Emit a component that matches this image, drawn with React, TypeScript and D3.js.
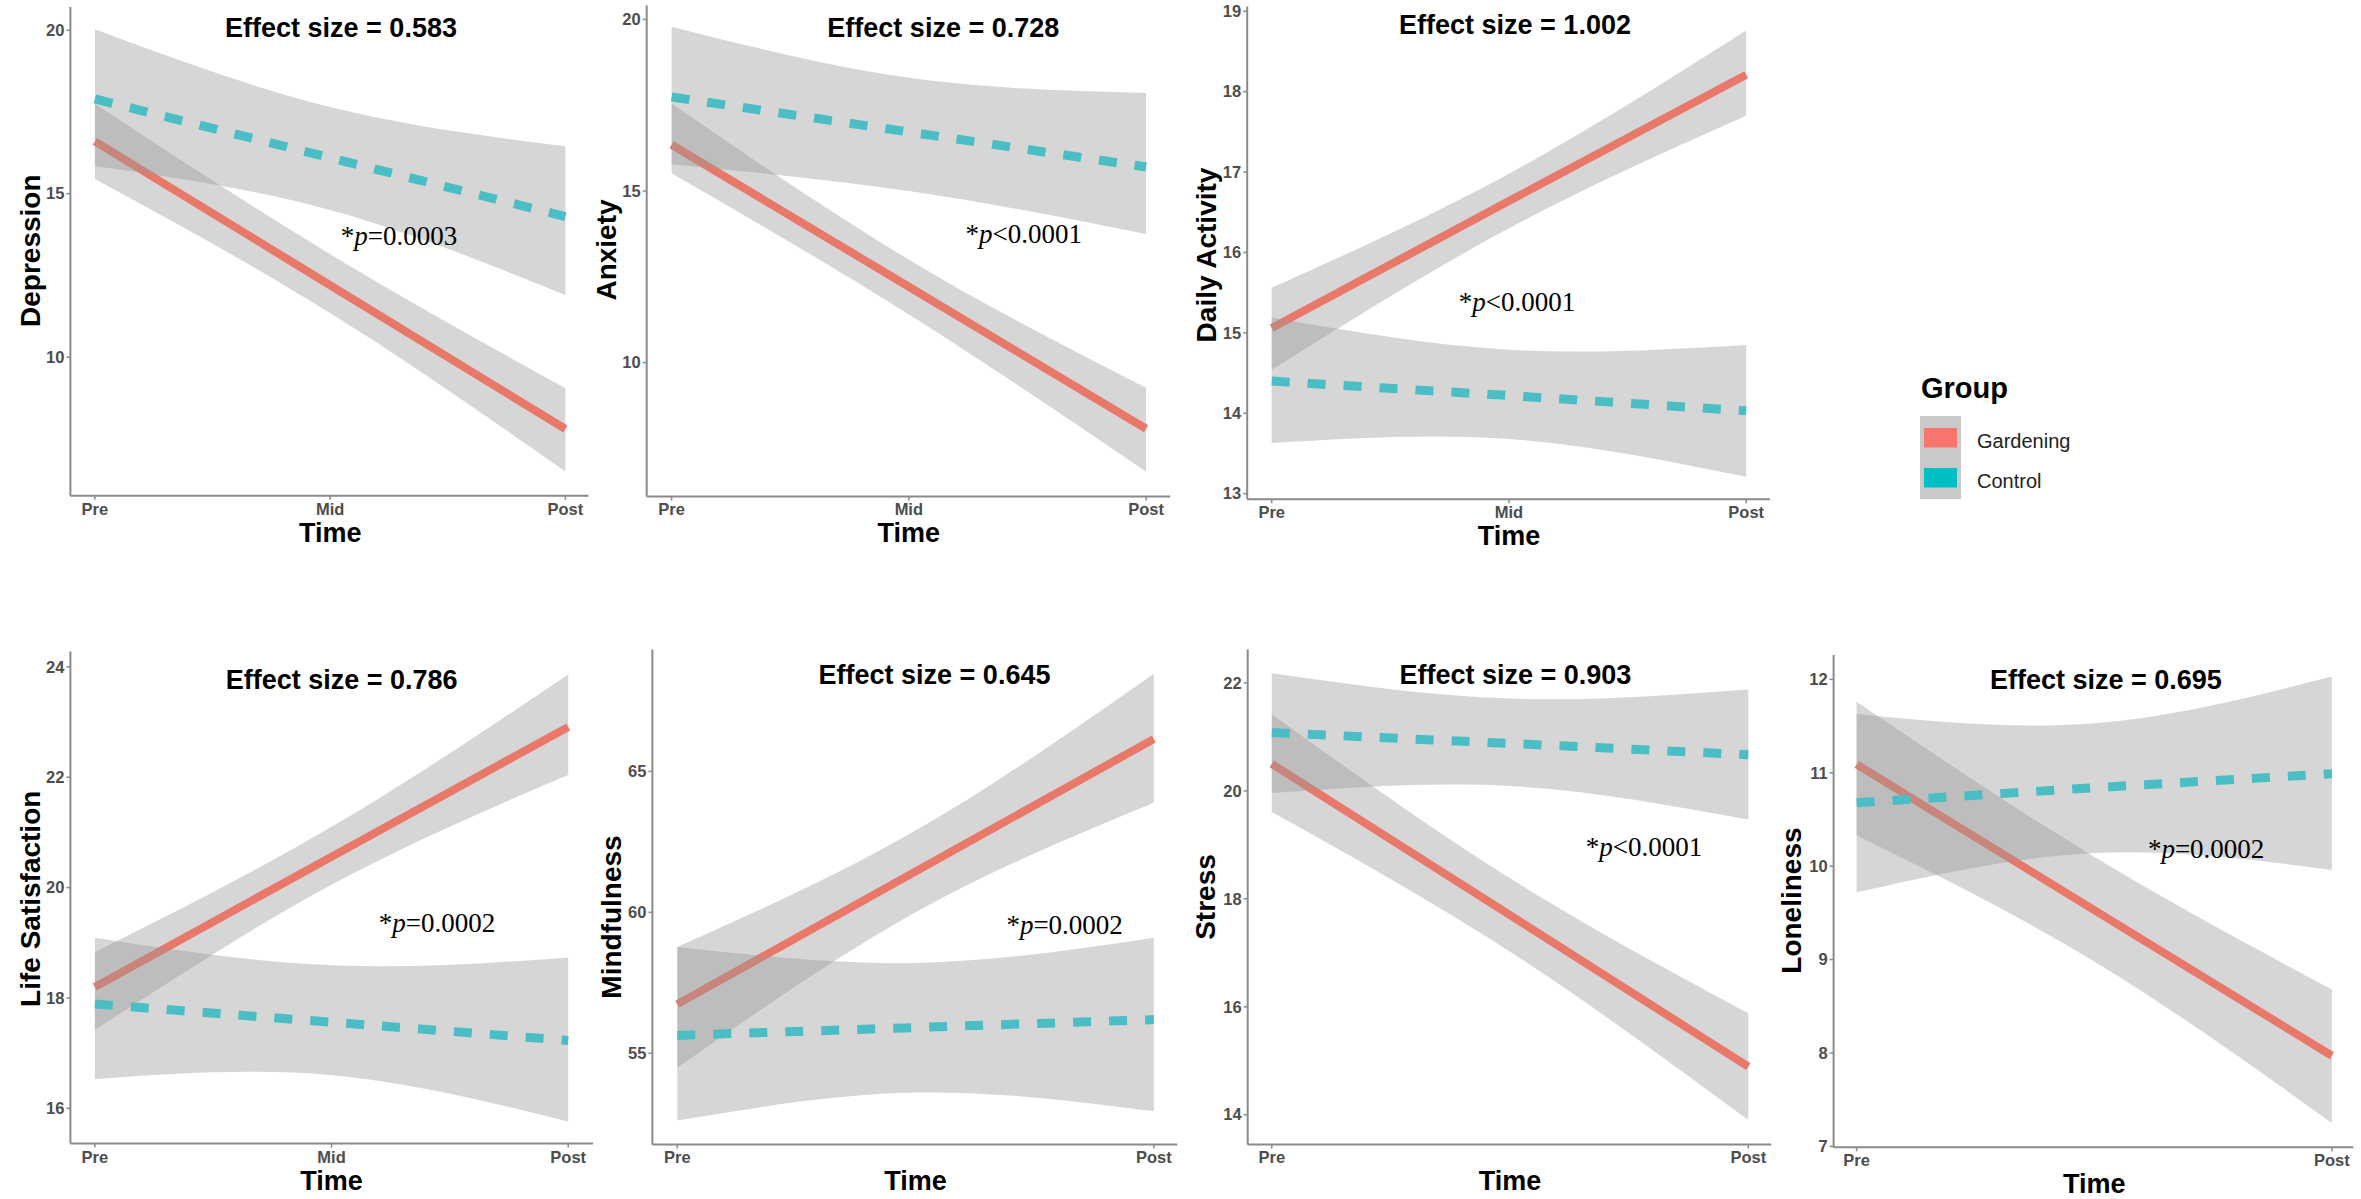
import * as d3 from "d3";

// time points and panel outcomes
const timePoints = ["Pre", "Mid", "Post"];
const outcomes = ["Depression", "Anxiety", "Daily Activity", "Life Satisfaction", "Mindfulness", "Stress", "Loneliness"];
const effectSizes = ["0.583", "0.728", "1.002", "0.786", "0.645", "0.903", "0.695"];
const pValues = ["=0.0003", "<0.0001", "<0.0001", "=0.0002", "=0.0002", "<0.0001", "=0.0002"];
const xTickLabels = [timePoints, timePoints, timePoints, timePoints, ["Pre", "Post"], ["Pre", "Post"], ["Pre", "Post"]];
const yTicks = [
  [10, 15, 20],
  [10, 15, 20],
  [13, 14, 15, 16, 17, 18, 19],
  [16, 18, 20, 22, 24],
  [55, 60, 65],
  [14, 16, 18, 20, 22],
  [7, 8, 9, 10, 11, 12],
];

// fitted values at Pre / Mid / Post
const gardeningMean = [
  [16.6, 12.2, 7.8],
  [16.35, 12.21, 8.07],
  [15.06, 16.64, 18.21],
  [18.2, 20.56, 22.91],
  [56.74, 61.45, 66.15],
  [20.5, 17.7, 14.89],
  [11.09, 9.53, 7.97],
];
const gardeningLower = [
  [15.45, 11.35, 6.5],
  [15.52, 11.4, 6.82],
  [14.54, 16.3, 17.7],
  [17.42, 20.05, 22.04],
  [54.48, 60.0, 63.89],
  [19.61, 17.02, 13.9],
  [10.33, 8.98, 7.25],
];
const gardeningUpper = [
  [17.75, 13.15, 9.05],
  [17.55, 13.0, 9.27],
  [15.56, 16.98, 18.76],
  [18.83, 21.1, 23.86],
  [58.77, 62.9, 68.47],
  [21.42, 18.38, 15.88],
  [11.76, 10.1, 8.68],
];
const controlMean = [
  [17.9, 16.1, 14.3],
  [17.74, 16.72, 15.7],
  [14.4, 14.22, 14.03],
  [17.89, 17.56, 17.23],
  [55.63, 55.91, 56.19],
  [21.08, 20.88, 20.67],
  [10.68, 10.84, 10.99],
];
const controlLower = [
  [15.85, 14.5, 11.9],
  [15.78, 15.0, 13.75],
  [13.63, 13.68, 13.21],
  [16.53, 16.6, 15.76],
  [52.61, 53.6, 52.94],
  [19.96, 20.09, 19.47],
  [9.72, 10.14, 9.96],
];
const controlUpper = [
  [20.03, 17.65, 16.45],
  [19.79, 18.3, 17.86],
  [15.19, 14.79, 14.85],
  [19.09, 18.59, 18.73],
  [58.77, 58.2, 59.1],
  [22.18, 21.71, 21.88],
  [11.63, 11.53, 12.03],
];

const groups = ["Gardening", "Control"];
const groupColors = ["#E8786A", "#4BBEC5"];
const keyColors = ["#F8766D", "#00BFC4"];

// panel placement on the page
const layout = [
  {left: 70.4, right: 588.4, top: 7.1, bottom: 495.7, xPre: 94.9, xPost: 565.4, yDomain: [5.76, 20.71], titleX: 341, titleY: 36.8, ylabX: 29.7, ylabY: 250.7, pX: 340.8, pY: 244.6},
  {left: 646.7, right: 1170.2, top: 5.4, bottom: 496.4, xPre: 671.6, xPost: 1146.1, yDomain: [6.1, 20.41], titleX: 943.3, titleY: 36.8, ylabX: 606, ylabY: 250, pX: 965.5, pY: 242.9},
  {left: 1247.2, right: 1770, top: 6.4, bottom: 499.3, xPre: 1271.7, xPost: 1746.2, yDomain: [12.93, 19.06], titleX: 1515, titleY: 33.9, ylabX: 1205.7, ylabY: 255, pX: 1458.8, pY: 310.7},
  {left: 70.4, right: 593, top: 651.4, bottom: 1143.6, xPre: 94.9, xPost: 568.2, yDomain: [15.36, 24.28], titleX: 341.6, titleY: 689.4, ylabX: 29.7, ylabY: 898.8, pX: 378.8, pY: 932},
  {left: 652.4, right: 1177.1, top: 649.5, bottom: 1144.4, xPre: 677.3, xPost: 1153.8, yDomain: [51.76, 69.33], titleX: 934.5, titleY: 683.5, ylabX: 611, ylabY: 917, pX: 1006.4, pY: 933.9},
  {left: 1247.7, right: 1771.3, top: 649.5, bottom: 1144.4, xPre: 1271.8, xPost: 1748.3, yDomain: [13.45, 22.62], titleX: 1515.4, titleY: 683.5, ylabX: 1204.9, ylabY: 897, pX: 1585.7, pY: 856.3},
  {left: 1833.6, right: 2353.3, top: 655.1, bottom: 1147.3, xPre: 1856.6, xPost: 2331.9, yDomain: [6.99, 12.26], titleX: 2105.9, titleY: 689.4, ylabX: 1791.4, ylabY: 900.6, pX: 2147.9, pY: 858.2},
];

const SANS = "'Liberation Sans', Arial, sans-serif";
const SERIF = "'Liberation Serif', 'Times New Roman', serif";
const AXIS = "#8a8a8a";

function Panel({i}: {i: number}) {
  const L = layout[i];
  const x = d3.scalePoint<string>().domain(timePoints).range([L.xPre, L.xPost]);
  const y = d3.scaleLinear().domain(L.yDomain).range([L.bottom, L.top]);

  const series = [
    {mean: gardeningMean[i], lo: gardeningLower[i], hi: gardeningUpper[i]},
    {mean: controlMean[i], lo: controlLower[i], hi: controlUpper[i]},
  ];

  const band = d3.area<number>()
    .x((_, j) => x(timePoints[j])!)
    .curve(d3.curveNatural);
  const line = d3.line<number>()
    .x((_, j) => x(timePoints[j])!)
    .y(d => y(d));

  return (
    <g>
      {series.map((s, g) => (
        <g key={g}>
          <path
            d={band.y0((_, j) => y(s.lo[j])).y1((_, j) => y(s.hi[j]))(s.mean) || ""}
            fill="#999999" fillOpacity={0.4}
          />
          <path
            d={line(s.mean) || ""}
            fill="none"
            stroke={groupColors[g]}
            strokeWidth={g === 0 ? 8 : 9}
            strokeDasharray={g === 1 ? "18 18" : undefined}
          />
        </g>
      ))}

      {/* axes */}
      <line x1={L.left} x2={L.left} y1={L.top} y2={L.bottom} stroke={AXIS} strokeWidth={2}/>
      <line x1={L.left} x2={L.right} y1={L.bottom} y2={L.bottom} stroke={AXIS} strokeWidth={2}/>
      {yTicks[i].map(t => (
        <g key={t}>
          <line x1={L.left - 4} x2={L.left} y1={y(t)} y2={y(t)} stroke={AXIS} strokeWidth={1.5}/>
          <text x={L.left - 6} y={y(t)} dy="0.35em" textAnchor="end"
                fontFamily={SANS} fontWeight="bold" fontSize={16.5} fill="#4d4d4d">{t}</text>
        </g>
      ))}
      {xTickLabels[i].map(t => (
        <g key={t}>
          <line x1={x(t)} x2={x(t)} y1={L.bottom} y2={L.bottom + 4} stroke={AXIS} strokeWidth={1.5}/>
          <text x={x(t)} y={L.bottom + 19} textAnchor="middle"
                fontFamily={SANS} fontWeight="bold" fontSize={16.5} fill="#4d4d4d">{t}</text>
        </g>
      ))}

      {/* titles */}
      <text x={(L.xPre + L.xPost) / 2} y={L.bottom + 46} textAnchor="middle"
            fontFamily={SANS} fontWeight="bold" fontSize={27} fill="#000">Time</text>
      <text transform={`translate(${L.ylabX},${L.ylabY}) rotate(-90)`} dy="0.35em" textAnchor="middle"
            fontFamily={SANS} fontWeight="bold" fontSize={28} fill="#000">{outcomes[i]}</text>
      <text x={L.titleX} y={L.titleY} textAnchor="middle"
            fontFamily={SANS} fontWeight="bold" fontSize={27} fill="#000">
        {`Effect size = ${effectSizes[i]}`}
      </text>
      <text x={L.pX} y={L.pY} fontFamily={SERIF} fontSize={27} fill="#000">
        *<tspan fontStyle="italic">p</tspan>{pValues[i]}
      </text>
    </g>
  );
}

function Legend() {
  return (
    <g fontFamily={SANS}>
      <text x={1921} y={398} fontWeight="bold" fontSize={29} fill="#000">Group</text>
      <rect x={1920} y={416} width={41} height={83} fill="#c9c9c9"/>
      {groups.map((g, k) => (
        <g key={g}>
          <rect x={1924} y={428 + k * 40} width={33} height={19.5} fill={keyColors[k]}/>
          <text x={1977} y={448 + k * 39.5} fontSize={20} fill="#222">{g}</text>
        </g>
      ))}
    </g>
  );
}

export default function App() {
  return (
    <svg width={2361} height={1199} viewBox="0 0 2361 1199"
         style={{position: "absolute", left: 0, top: 0, background: "#fff"}}>
      <rect width={2361} height={1199} fill="#fff"/>
      {outcomes.map((_, i) => <Panel key={i} i={i}/>)}
      <Legend/>
    </svg>
  );
}
